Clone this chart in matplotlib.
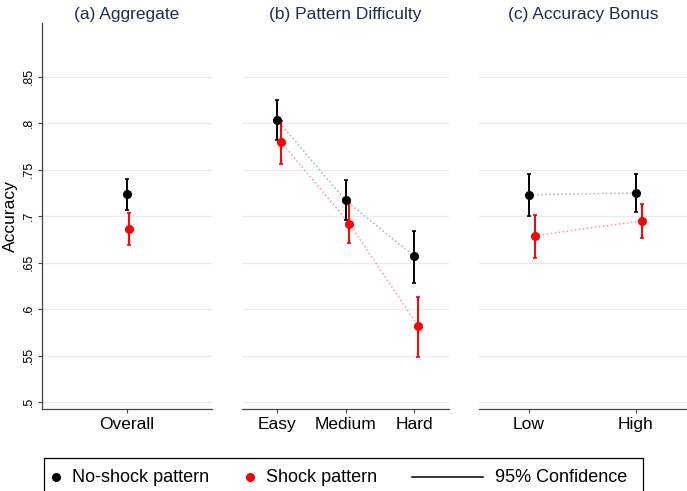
import numpy as np
import matplotlib
matplotlib.use("Agg")
import matplotlib.pyplot as plt
from matplotlib.lines import Line2D
from matplotlib.patches import Rectangle

plt.rcParams['font.family'] = ['Liberation Sans', 'DejaVu Sans']

# ---- data ----
agg_cats = ["Overall"]
agg_noshock = [0.724]
agg_noshock_lo = [0.707]
agg_noshock_hi = [0.740]
agg_shock = [0.686]
agg_shock_lo = [0.669]
agg_shock_hi = [0.704]

diff_cats = ["Easy", "Medium", "Hard"]
diff_noshock = [0.804, 0.717, 0.657]
diff_noshock_lo = [0.782, 0.696, 0.628]
diff_noshock_hi = [0.825, 0.739, 0.684]
diff_shock = [0.780, 0.692, 0.582]
diff_shock_lo = [0.756, 0.671, 0.549]
diff_shock_hi = [0.803, 0.714, 0.613]

bonus_cats = ["Low", "High"]
bonus_noshock = [0.723, 0.725]
bonus_noshock_lo = [0.700, 0.705]
bonus_noshock_hi = [0.745, 0.745]
bonus_shock = [0.679, 0.695]
bonus_shock_lo = [0.655, 0.677]
bonus_shock_hi = [0.701, 0.713]

titles = ["(a) Aggregate", "(b) Pattern Difficulty", "(c) Accuracy Bonus"]
yticks = [0.5, 0.55, 0.6, 0.65, 0.7, 0.75, 0.8, 0.85]
ytick_labels = [".5", ".55", ".6", ".65", ".7", ".75", ".8", ".85"]

title_col = "#1c2f52"
grid_col = "#e4eef0"
axis_col = "#444444"
shock_red = "#ff0000"

fig = plt.figure(figsize=(6.87, 4.91), dpi=100)

W, H = 687.0, 491.0
bottom = 1 - 409 / H
height = (409 - 23) / H
ax_a = fig.add_axes([42 / W, bottom, 170 / W, height])
ax_b = fig.add_axes([242 / W, bottom, 207 / W, height])
ax_c = fig.add_axes([479 / W, bottom, 208 / W, height])

panels = [
    (ax_a, agg_cats, agg_noshock, agg_noshock_lo, agg_noshock_hi,
     agg_shock, agg_shock_lo, agg_shock_hi, (0.0, 2.0), 0.024),
    (ax_b, diff_cats, diff_noshock, diff_noshock_lo, diff_noshock_hi,
     diff_shock, diff_shock_lo, diff_shock_hi, (0.49, 3.51), 0.058),
    (ax_c, bonus_cats, bonus_noshock, bonus_noshock_lo, bonus_noshock_hi,
     bonus_shock, bonus_shock_lo, bonus_shock_hi, (0.533, 2.477), 0.053),
]

for i, (ax, cats, m0, lo0, hi0, m1, lo1, hi1, xl, off) in enumerate(panels):
    x = np.arange(1, len(cats) + 1)
    m0, lo0, hi0 = np.array(m0), np.array(lo0), np.array(hi0)
    m1, lo1, hi1 = np.array(m1), np.array(lo1), np.array(hi1)

    for yv in yticks:
        ax.axhline(yv, color=grid_col, lw=1.0, zorder=0)

    if len(cats) > 1:
        ax.plot(x, m0, ls=":", color="#9fb4c9", lw=1.1, zorder=1)
        ax.plot(x + off, m1, ls=":", color="#f59a9a", lw=1.1, zorder=1)

    ax.errorbar(x, m0, yerr=[m0 - lo0, hi0 - m0], fmt="o", color="black",
                ms=5.5, elinewidth=1.4, capsize=1.3, capthick=1.2, zorder=3)
    ax.errorbar(x + off, m1, yerr=[m1 - lo1, hi1 - m1], fmt="o",
                color=shock_red, ms=5.5, elinewidth=1.4, capsize=1.3,
                capthick=1.2, zorder=3)

    ax.set_xlim(*xl)
    ax.set_ylim(0.4925, 0.908)
    ax.set_xticks(x)
    ax.set_xticklabels(cats, fontsize=12.5)
    ax.tick_params(axis="x", length=3, width=0.8, color=axis_col, pad=3)
    ax.set_title(titles[i], fontsize=12.5, color=title_col, pad=3)

    for s in ["top", "right"]:
        ax.spines[s].set_visible(False)
    ax.spines["bottom"].set_color(axis_col)
    ax.spines["bottom"].set_linewidth(0.9)

    if i == 0:
        ax.spines["left"].set_color(axis_col)
        ax.spines["left"].set_linewidth(0.9)
        ax.set_yticks(yticks)
        ax.set_yticklabels(ytick_labels, rotation=90, va="center", fontsize=9)
        ax.tick_params(axis="y", length=3, width=0.8, color=axis_col, pad=2)
        ax.set_ylabel("Accuracy", fontsize=12.5, labelpad=4)
    else:
        ax.spines["left"].set_visible(False)
        ax.set_yticks([])

# ---- legend box drawn by hand ----
ly = 1 - 477 / H
fig.patches.append(Rectangle((44 / W, -0.03), (643 - 44) / W, 0.03 + 1 - 458 / H,
                             transform=fig.transFigure, fill=False,
                             edgecolor="black", lw=0.9))
fig.lines.append(Line2D([56 / W], [ly], marker="o", ms=5.5, color="black",
                        ls="none", transform=fig.transFigure))
fig.text(72 / W, ly, "No-shock pattern", fontsize=13, va="center")
fig.lines.append(Line2D([250 / W], [ly], marker="o", ms=5.5, color=shock_red,
                        ls="none", transform=fig.transFigure))
fig.text(266 / W, ly, "Shock pattern", fontsize=13, va="center")
fig.lines.append(Line2D([412 / W, 483 / W], [ly, ly], color="black", lw=1.1,
                        transform=fig.transFigure))
fig.text(495 / W, ly, "95% Confidence", fontsize=13, va="center")

fig.savefig("out.png", dpi=100)
